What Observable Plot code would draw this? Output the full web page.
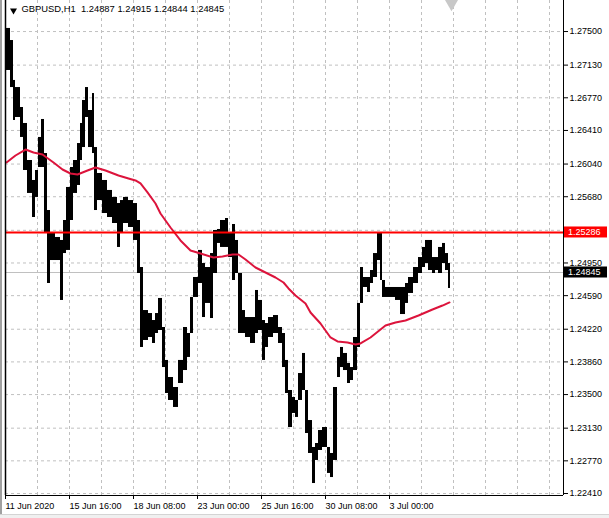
<!DOCTYPE html>
<html><head><meta charset="utf-8">
<script src="https://cdn.jsdelivr.net/npm/d3@7"></script>
<script src="https://cdn.jsdelivr.net/npm/@observablehq/plot@0.6"></script>
<style>
body{margin:0;background:#fff;}
#wrap{position:relative;width:609px;height:518px;overflow:hidden;background:#fff;}
#lborder{position:absolute;left:0;top:0;width:2px;height:518px;background:#a0a0a0;}
#bborder{position:absolute;left:0;top:514px;width:609px;height:4px;background:#f0f0f0;border-top:1px solid #d4d4d4;}
svg{display:block;}
</style></head><body><div id="wrap"></div>
<script>
// Hour index (H1 bar number from 11 Jun 2020 00:00, weekends skipped) of each sampled window
const barTime = [1,5,8,10,15,18,22,27,30,33,36,39,42,45,50,55,58,61,65,68,72,75,77,80,83,87,89,92,97,102,107,112,115,118,123,128,132,135,138,143,147,150,153,157,160,163,168,173,178,182,185,188,193,197,200,205,208,212,215,220,223,227,230,233,237,240,245,250,253,257,260,263,268,273,277,280,283,287,290,293,297,300,303,307,310,313,317,322,325,328,332,335,338,342,345,348,352,355,358,362,365,368,372,375,377,380,385,390,395,400,403,408,413,417,420,423,427,430,433,437,440,443];
const barHigh = [1.27534,1.27401,1.26961,1.26883,1.26663,1.26487,1.26079,1.25859,1.25969,1.26333,1.26531,1.26156,1.25528,1.25275,1.25231,1.25198,1.25418,1.25782,1.26002,1.26079,1.26266,1.26487,1.26740,1.26883,1.26630,1.26817,1.26222,1.25936,1.25859,1.25749,1.25672,1.25605,1.25638,1.25672,1.25638,1.25605,1.25418,1.24900,1.24426,1.24393,1.24316,1.24393,1.24559,1.24239,1.23876,1.23688,1.23578,1.23876,1.24239,1.24173,1.24570,1.24790,1.25088,1.24944,1.24900,1.25054,1.25308,1.25319,1.25418,1.25440,1.25275,1.25374,1.25198,1.24834,1.24426,1.24349,1.24349,1.24647,1.24537,1.24316,1.24283,1.24349,1.24371,1.24239,1.24173,1.23876,1.23545,1.23468,1.23435,1.23732,1.23953,1.23545,1.23214,1.22917,1.22961,1.23104,1.23137,1.22917,1.22851,1.23578,1.23909,1.24019,1.23953,1.23843,1.23798,1.24129,1.24504,1.24900,1.24790,1.24790,1.24867,1.25054,1.25275,1.25275,1.24757,1.24680,1.24680,1.24680,1.24680,1.24724,1.24790,1.24900,1.25010,1.25121,1.25198,1.25198,1.25010,1.25010,1.25121,1.25165,1.25054,1.24944];
const barLow = [1.27071,1.26883,1.26520,1.26553,1.26333,1.25969,1.25716,1.25451,1.25672,1.26002,1.26002,1.25275,1.24724,1.24977,1.24977,1.24537,1.25054,1.25088,1.25418,1.25716,1.25804,1.26079,1.26222,1.26553,1.26222,1.26156,1.25528,1.25638,1.25495,1.25451,1.25385,1.25121,1.25275,1.25385,1.25341,1.25198,1.24834,1.24019,1.24096,1.24129,1.24063,1.24173,1.24206,1.23798,1.23512,1.23435,1.23358,1.23622,1.23765,1.23909,1.24173,1.24570,1.24724,1.24349,1.24504,1.24338,1.24834,1.25165,1.25121,1.25121,1.25010,1.24757,1.24834,1.24173,1.24173,1.24129,1.24063,1.24173,1.24206,1.23876,1.24019,1.24129,1.24173,1.24063,1.23798,1.23512,1.23137,1.23292,1.23248,1.23435,1.23545,1.23071,1.22851,1.22520,1.22774,1.22884,1.22917,1.22631,1.22586,1.22774,1.23688,1.23798,1.23765,1.23622,1.23655,1.23765,1.24019,1.24504,1.24680,1.24625,1.24724,1.24790,1.24977,1.24757,1.24570,1.24570,1.24570,1.24537,1.24382,1.24504,1.24614,1.24724,1.24834,1.24900,1.24944,1.24867,1.24834,1.24867,1.24834,1.24944,1.24867,1.24669];
const lastTime = 445;

// Moving average (crimson)
const maTime = [1,10,20,28,37,48,57,65,72,82,90,100,113,123,130,135,142,150,155,165,175,185,195,208,217,227,233,240,250,260,270,278,283,290,300,305,315,325,332,342,350,355,365,375,380,390,400,413,427,437,444];
const maValue = [1.26057,1.26134,1.26200,1.26167,1.26145,1.26057,1.25980,1.25936,1.25925,1.25969,1.26002,1.25969,1.25914,1.25881,1.25859,1.25826,1.25727,1.25605,1.25495,1.25341,1.25198,1.25088,1.25054,1.25010,1.25021,1.25043,1.25043,1.24988,1.24900,1.24845,1.24790,1.24735,1.24669,1.24592,1.24504,1.24404,1.24283,1.24129,1.24085,1.24074,1.24052,1.24063,1.24129,1.24217,1.24261,1.24294,1.24316,1.24371,1.24437,1.24481,1.24515];

const yTicks = [1.27500,1.27130,1.26770,1.26410,1.26040,1.25680,1.24950,1.24590,1.24220,1.23860,1.23500,1.23130,1.22770,1.22410];
const yGrid = [1.27500,1.27130,1.26770,1.26410,1.26040,1.25680,1.25310,1.24950,1.24590,1.24220,1.23860,1.23500,1.23130,1.22770,1.22410];
const xTicks = [0,64,128,192,256,320,384];
const xTickLabels = ["11 Jun 2020","15 Jun 16:00","18 Jun 08:00","23 Jun 00:00","25 Jun 16:00","30 Jun 08:00","3 Jul 00:00"];
const xGrid = [32,64,96,128,160,192,224,256,288,320,352,384,416,448,480,512,544];
const levelPrice = 1.25286;
const bidPrice = 1.24845;
const header = "GBPUSD,H1\u00a0\u00a01.24887 1.24915 1.24844 1.24845";
const xDomain = [0, 558];
const yDomain = [1.22388, 1.27842];

const bars = barTime.map((t, i) => ({t, t2: i < barTime.length - 1 ? barTime[i + 1] : lastTime, hi: barHigh[i], lo: barLow[i]}));
const ma = maTime.map((t, i) => ({t, v: maValue[i]}));
const font = "Liberation Sans, Arial, sans-serif";

const chart = Plot.plot({
  width: 609, height: 518,
  marginLeft: 5, marginRight: 46, marginTop: 0, marginBottom: 23,
  style: {fontFamily: font, fontSize: "9px", color: "#000", background: "#fff"},
  x: {domain: xDomain, axis: null},
  y: {domain: yDomain, axis: null},
  marks: [
    Plot.ruleY(yGrid, {stroke: "#c0c0c0", strokeDasharray: "3,3", strokeWidth: 1}),
    Plot.ruleX(xGrid, {stroke: "#c0c0c0", strokeDasharray: "3,3", strokeWidth: 1}),
    Plot.ruleY([bidPrice], {stroke: "#c0c0c0", strokeWidth: 1}),
    Plot.rect(bars, {x1: "t", x2: "t2", y1: "lo", y2: "hi", fill: "#000"}),
    Plot.line(ma, {x: "t", y: "v", stroke: "#dc143c", strokeWidth: 2}),
    Plot.ruleY([levelPrice], {stroke: "#ff0000", strokeWidth: 2}),
    Plot.ruleX([xDomain[0]], {stroke: "#000", strokeWidth: 1.5}),
    Plot.ruleX([xDomain[1]], {stroke: "#000", strokeWidth: 1}),
    Plot.ruleY([yDomain[0]], {stroke: "#000", strokeWidth: 1}),
    Plot.axisY(yTicks, {anchor: "right", tickSize: 4, tickPadding: 2, tickFormat: d3.format(".5f"), textAnchor: "start", fontSize: 9}),
    Plot.axisX(xTicks, {anchor: "bottom", tickSize: 4, tickPadding: 3, tickFormat: (d, i) => xTickLabels[i], textAnchor: "start", fontSize: 9}),
    Plot.text([header], {frameAnchor: "top-left", dx: 16, dy: 5, textAnchor: "start", fontSize: 9.4, fill: "#000"}),
    Plot.dot([0], {frameAnchor: "top-left", dx: 8, dy: 10, symbol: "triangle", rotate: 180, r: 2.6, fill: "#000", stroke: null}),
    Plot.dot([lastTime], {x: d => d + 1, frameAnchor: "top", dy: 3, symbol: "triangle", rotate: 180, r: 5, fill: "#c8c8c8", stroke: null})
  ]
});

// price labels in the right margin, positioned with the chart's y scale
const ys = chart.scale("y");
const svg = d3.select(chart);
[[levelPrice, "#ff0000"], [bidPrice, "#000000"]].forEach(([p, col]) => {
  const yy = ys.apply(p);
  const g = svg.append("g");
  g.append("rect").attr("x", 564).attr("y", yy - 5.5).attr("width", 43).attr("height", 11).attr("fill", col);
  g.append("text").attr("x", 568).attr("y", yy).attr("dy", "0.34em").attr("fill", "#fff")
    .attr("text-anchor", "start").attr("font-family", font).attr("font-size", 9).text(d3.format(".5f")(p));
});

const wrap = document.getElementById("wrap");
wrap.appendChild(chart);
const lb = document.createElement("div"); lb.id = "lborder"; wrap.appendChild(lb);
const bb = document.createElement("div"); bb.id = "bborder"; wrap.appendChild(bb);
</script></body></html>
